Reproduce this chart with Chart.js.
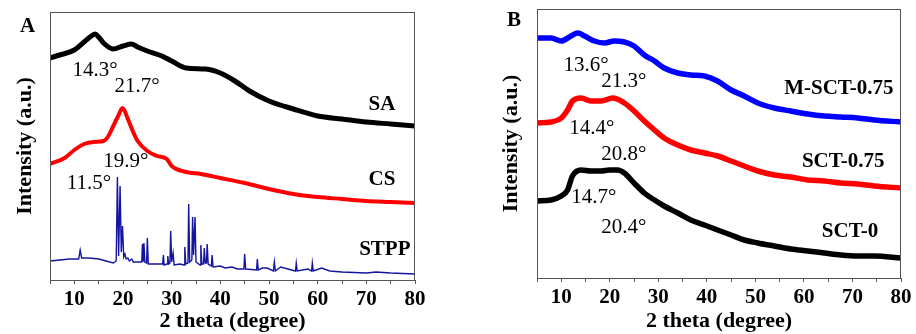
<!DOCTYPE html>
<html>
<head>
<meta charset="utf-8">
<script src="https://cdn.jsdelivr.net/npm/chart.js@4/dist/chart.umd.min.js"></script>
<style>
  html, body { margin: 0; padding: 0; background: #fff; }
  #wrap { position: relative; width: 916px; height: 334px; }
  .panel { position: absolute; top: 0; width: 458px; height: 334px; }
  .letter { position: absolute; font: bold 21px 'Liberation Serif', serif; color: #000; line-height: 24px; }
</style>
</head>
<body>
<div id="wrap">
  <div class="panel" style="left:0"><canvas id="chartA" width="458" height="334"></canvas></div>
  <div class="panel" style="left:458px"><canvas id="chartB" width="458" height="334"></canvas></div>
  <div class="letter" style="left:20px;top:13px">A</div>
  <div class="letter" style="left:507px;top:7px">B</div>
</div>
<script>
// Panel A: SA, CS, STPP (2 theta in degrees, intensity in arbitrary units)
const saX = [5, 7, 10, 12, 13.5, 14.3, 15, 16, 18, 20, 21.7, 23, 25, 28, 30, 33, 37, 40, 43, 46, 50, 55, 60, 65, 70, 75, 80];
const saY = [222, 225, 230, 238, 244, 246, 243, 237, 231, 234, 236, 233, 229, 224, 219, 212, 211, 207, 199, 189, 179, 171, 164, 161, 158, 156, 154];

const csX = [5, 8, 10, 12, 14, 16, 17, 18, 19, 19.9, 21, 22, 23, 25, 27, 29, 30, 33, 36, 40, 45, 50, 55, 60, 65, 70, 75, 80];
const csY = [116, 122, 130, 136, 138, 139, 144, 154, 164, 172, 161, 149, 139, 129, 124, 121, 114, 108, 106, 102, 97, 91, 86, 83, 81, 79, 78, 77];

const stppX = [5, 7, 9, 10.9, 11.2, 11.5, 13, 15, 16.5, 18, 18.6, 18.85, 19.1, 19.4, 19.65, 19.9, 20.15, 20.4, 20.65, 21.0, 21.3, 21.8, 22.1, 23.0,
  23.85, 24.0, 24.15, 24.3, 24.5, 24.85, 25.0, 25.2, 26.0, 28.15, 28.3, 28.45, 29.05, 29.2, 29.4, 29.65, 29.8, 30.0, 30.3, 30.5, 31.7,
  32.55, 32.7, 32.9, 33.35, 33.5, 33.7, 34.15, 34.3, 34.5, 34.8, 35.0, 35.85, 36.0, 36.2, 36.55, 36.7, 36.9, 37.15, 37.3, 37.5, 38.15, 38.3, 38.5,
  40.0, 41, 42.4, 43.5, 44.85, 45.0, 45.2, 47.45, 47.6, 47.8, 48.7, 49.6, 50.9, 51.1, 51.3, 52.4, 55.45, 55.6, 55.8, 58.0, 58.75, 58.9, 59.1,
  60.8, 62.5, 65, 70, 72, 75, 80];
const stppY = [19, 20, 21, 21, 30, 22, 22, 21, 19, 17, 19, 103, 24, 94, 28, 54, 23, 26, 21, 22, 19, 21, 18, 18,
  18, 36, 19, 37, 18, 17, 42, 16, 16, 16, 25, 15, 16, 24, 16, 17, 49, 18, 27, 15, 16,
  15, 33, 16, 17, 76, 18, 20, 63, 25, 63, 18, 15, 35, 16, 16, 32, 17, 17, 36, 16, 14, 25, 13,
  14, 12, 13, 11, 11, 26, 11, 10, 21, 10, 12, 12, 9, 18, 9, 13, 9, 17, 9, 11, 9, 17, 9,
  12, 9, 8, 7, 8, 7, 6];

// Panel B: M-SCT-0.75, SCT-0.75, SCT-0
const bX = [5, 7.9, 10, 12, 13.4, 14.8, 16.8, 18.9, 20.9, 23, 25, 27.1, 29.2, 31.2, 34, 36.7, 39.5, 42.2, 45, 47.7, 50.5, 53.9, 57.3, 60.8, 64.2, 67.6, 71.1, 74.5, 80];
const msctY = [240, 240, 237, 242, 245, 242, 237, 235, 237, 236, 232, 223, 217, 210, 205, 203, 202, 197, 188, 182, 175, 170, 167, 164, 162, 161, 160, 158, 156];

const sctX = [5, 7.9, 10, 11.3, 12.3, 14.1, 16.1, 18.2, 20.6, 23, 25, 27.1, 29.2, 31.2, 34, 36.7, 39.5, 42.2, 45, 47.7, 50.5, 53.9, 57.3, 60.8, 64.2, 67.6, 71.1, 74.5, 80];
const sct75Y = [155, 156, 160, 168, 177, 180, 177, 177, 180, 175, 167, 157, 148, 140, 133, 128, 125, 122, 117, 112, 107, 103, 101, 98, 97, 95, 94, 92, 90];

const sct0X = [5, 7.9, 10, 11.3, 12.3, 14.1, 16.1, 18.2, 19.9, 21.6, 23, 25, 27.1, 29.2, 31.2, 34, 36.7, 39.5, 42.2, 45, 47.7, 50.5, 53.9, 57.3, 60.8, 64.2, 67.6, 71.1, 74.5, 80];
const sct0Y = [77, 78, 82, 88, 102, 108, 107, 107, 108, 108, 105, 95, 85, 78, 72, 65, 58, 53, 48, 43, 38, 35, 32, 29, 27, 25, 23, 22, 22, 20];

const xTicks = [10, 20, 30, 40, 50, 60, 70, 80];

const serif = "'Liberation Serif', 'Times New Roman', serif";
const frameColor = '#555';

function points(xs, ys) {
  return xs.map((x, i) => ({ x: x, y: ys[i] }));
}

// draws the box round the plot and the text labels
const extras = {
  id: 'extras',
  afterDatasetsDraw(chart, args, opts) {
    const { ctx, chartArea, scales } = chart;
    ctx.save();
    ctx.strokeStyle = frameColor;
    ctx.lineWidth = 1;
    ctx.strokeRect(chartArea.left + 0.5, chartArea.top + 0.5, chartArea.width - 1, chartArea.height);
    ctx.textAlign = 'center';
    ctx.textBaseline = 'middle';
    ctx.fillStyle = '#000';
    (opts.items || []).forEach(it => {
      ctx.font = (it.bold ? 'bold ' : '') + it.size + 'px ' + serif;
      ctx.fillText(it.text, scales.x.getPixelForValue(it.x), scales.y.getPixelForValue(it.y));
    });
    ctx.restore();
  }
};

function makeChart(id, datasets, box, items) {
  return new Chart(document.getElementById(id), {
    type: 'line',
    data: { datasets: datasets },
    plugins: [extras],
    options: {
      responsive: false,
      animation: false,
      layout: { padding: { top: box.top, right: box.right, left: 0, bottom: 0 } },
      elements: { point: { radius: 0 }, line: { cubicInterpolationMode: 'monotone' } },
      plugins: {
        legend: { display: false },
        tooltip: { enabled: false },
        extras: { items: items }
      },
      scales: {
        x: {
          type: 'linear',
          min: 5,
          max: 80,
          afterFit(scale) { scale.height = box.xh; },
          afterBuildTicks(scale) {
            const t = [];
            for (let v = 5; v <= 80; v += 5) t.push({ value: v });
            scale.ticks = t;
          },
          ticks: {
            autoSkip: false,
            maxRotation: 0,
            padding: 3,
            color: '#000',
            font: { family: serif, size: 21, weight: 'bold' },
            callback: v => xTicks.includes(v) ? String(v) : ''
          },
          grid: { drawOnChartArea: false, drawTicks: true, tickLength: 4, color: frameColor },
          border: { display: false },
          title: {
            display: true,
            text: '2 theta (degree)',
            color: '#000',
            padding: { top: 0, bottom: -1 },
            font: { family: serif, size: 22, weight: 'bold' }
          }
        },
        y: {
          min: 0,
          max: box.ymax,
          afterFit(scale) { scale.width = box.yw; },
          ticks: { display: false },
          grid: { display: false },
          border: { display: false },
          title: {
            display: true,
            text: 'Intensity (a.u.)',
            color: '#000',
            padding: { top: box.ytp, bottom: 0 },
            font: { family: serif, size: 22, weight: 'bold' }
          }
        }
      }
    }
  });
}

makeChart('chartA', [
  { label: 'SA', data: points(saX, saY), borderColor: '#000000', borderWidth: 5 },
  { label: 'CS', data: points(csX, csY), borderColor: '#ff0000', borderWidth: 4 },
  { label: 'STPP', data: points(stppX, stppY), borderColor: '#1414a0', borderWidth: 1.4, cubicInterpolationMode: 'default', tension: 0 }
], { top: 12, right: 43, xh: 54, yw: 50, ymax: 268, ytp: 12 }, [
  { text: '14.3°', x: 14.25, y: 210, size: 21 },
  { text: '21.7°', x: 22.9, y: 194, size: 21 },
  { text: '19.9°', x: 20.6, y: 119, size: 21 },
  { text: '11.5°', x: 13.0, y: 97, size: 21 },
  { text: 'SA', x: 73.2, y: 175, size: 21, bold: true },
  { text: 'CS', x: 73.2, y: 100, size: 21, bold: true },
  { text: 'STPP', x: 73.8, y: 30, size: 21, bold: true }
]);

makeChart('chartB', [
  { label: 'M-SCT-0.75', data: points(bX, msctY), borderColor: '#0000ff', borderWidth: 5.5 },
  { label: 'SCT-0.75', data: points(sctX, sct75Y), borderColor: '#ff0000', borderWidth: 5.5 },
  { label: 'SCT-0', data: points(sct0X, sct0Y), borderColor: '#000000', borderWidth: 5.5 }
], { top: 9, right: 15, xh: 56, yw: 79, ymax: 269, ytp: 40 }, [
  { text: '13.6°', x: 15.1, y: 213, size: 21 },
  { text: '21.3°', x: 22.9, y: 197, size: 21 },
  { text: '14.4°', x: 16.3, y: 150, size: 21 },
  { text: '20.8°', x: 22.9, y: 124, size: 21 },
  { text: '14.7°', x: 16.7, y: 81, size: 21 },
  { text: '20.4°', x: 22.9, y: 51, size: 21 },
  { text: 'M-SCT-0.75', x: 67.2, y: 189, size: 21, bold: true },
  { text: 'SCT-0.75', x: 68.1, y: 116, size: 21, bold: true },
  { text: 'SCT-0', x: 69.5, y: 46, size: 21, bold: true }
]);
</script>
</body>
</html>
